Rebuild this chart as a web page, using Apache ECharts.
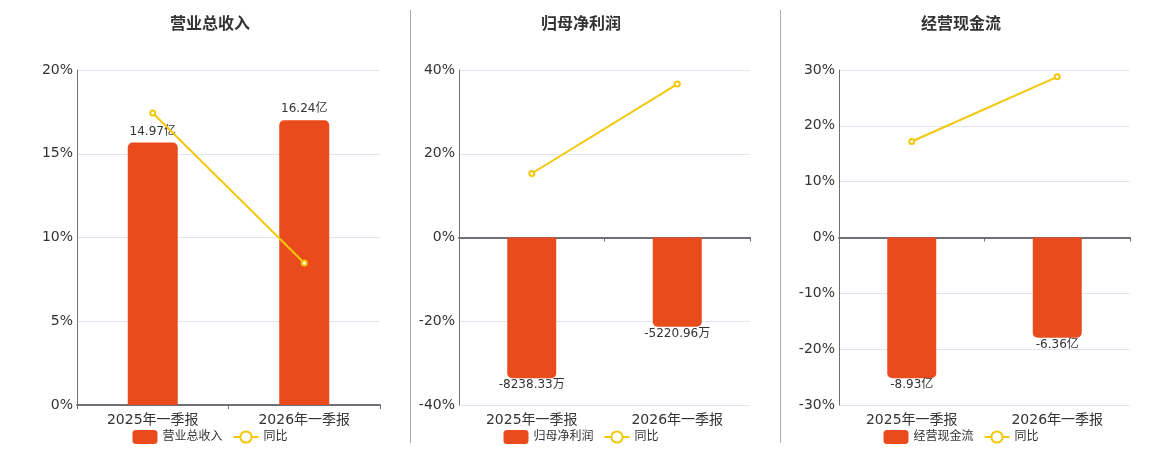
<!DOCTYPE html>
<html><head><meta charset="utf-8">
<script src="https://cdn.jsdelivr.net/npm/echarts@6/dist/echarts.min.js"></script>
<style>html,body{margin:0;padding:0;background:#fff}#c{width:1160px;height:450px}</style>
</head><body><div id="c"></div>
<script>
const categories = ['2025年一季报', '2026年一季报'];
const titles = ['营业总收入', '归母净利润', '经营现金流'];
const revenueValues = [14.97, 16.24];          // 亿
const revenueLabels = ['14.97亿', '16.24亿'];
const revenueYoY = [17.43, 8.48];
const profitValues = [-8238.33, -5220.96];     // 万
const profitLabels = ['-8238.33万', '-5220.96万'];
const profitYoY = [15.28, 36.63];
const cashValues = [-8.93, -6.36];             // 亿
const cashLabels = ['-8.93亿', '-6.36亿'];
const cashYoY = [17.2, 28.78];
const pctAxes = [[0, 20, 5], [-40, 40, 20], [-30, 30, 10]];

const FONT = "'DejaVu Sans','Noto Sans CJK SC',sans-serif";
const BAR = '#E94B1C', LINE = '#F3C70A';
const panels = [
  {vals: revenueValues, labels: revenueLabels, yoy: revenueYoY, left: 77, width: 303, cx: 210, bw: 50, f: 0.85},
  {vals: profitValues, labels: profitLabels, yoy: profitYoY, left: 459, width: 291, cx: 581, bw: 49, f: 0.84},
  {vals: cashValues, labels: cashLabels, yoy: cashYoY, left: 839, width: 291, cx: 961, bw: 49, f: 0.84}
];

const option = {animation: false, title: [], legend: [], grid: [], xAxis: [], yAxis: [], series: [],
  graphic: [
    {type: 'line', shape: {x1: 410.5, y1: 10, x2: 410.5, y2: 443}, style: {stroke: '#aaaaaa', lineWidth: 1}},
    {type: 'line', shape: {x1: 780.5, y1: 10, x2: 780.5, y2: 443}, style: {stroke: '#aaaaaa', lineWidth: 1}}
  ]};

panels.forEach((p, i) => {
  const [mn, mx, iv] = pctAxes[i];
  const maxAbs = Math.max(...p.vals.map(Math.abs));
  const bMax = maxAbs / p.f;
  const bMin = mn < 0 ? -bMax : 0;
  option.title.push({text: titles[i], left: p.cx, top: 12,
    textStyle: {fontSize: 16, fontWeight: 'bold', color: '#333', fontFamily: FONT}});
  option.legend.push({data: [titles[i], '同比'].map(n => ({name: n})), left: p.cx, top: 425, itemWidth: 25, itemHeight: 14, itemGap: 10,
    textStyle: {fontSize: 12, color: '#333', fontFamily: FONT}, selectedMode: false});
  option.grid.push({left: p.left, width: p.width, top: 70, bottom: 45, containLabel: false});
  option.xAxis.push({type: 'category', gridIndex: i, data: categories,
    axisLine: {show: true, onZero: true, onZeroAxisIndex: i * 2, lineStyle: {color: '#6E7079', width: 2}},
    axisTick: {show: true, length: 4, lineStyle: {color: '#6E7079'}},
    axisLabel: {fontSize: 14, color: '#333', fontFamily: FONT, margin: 8}});
  option.yAxis.push({type: 'value', gridIndex: i, min: mn, max: mx, interval: iv,
    axisLine: {show: true, lineStyle: {color: '#6E7079'}}, axisTick: {show: false},
    axisLabel: {fontSize: 14, color: '#333', fontFamily: FONT, margin: 4, formatter: '{value}%'},
    splitLine: {lineStyle: {color: '#E0E6F1'}}});
  option.yAxis.push({type: 'value', gridIndex: i, min: bMin, max: bMax, show: false, splitLine: {show: false}});
  option.series.push({type: 'bar', name: titles[i], xAxisIndex: i, yAxisIndex: i * 2 + 1, barWidth: p.bw,
    itemStyle: {color: BAR},
    data: p.vals.map((v, k) => ({value: v,
      itemStyle: {borderRadius: v >= 0 ? [5, 5, 0, 0] : [0, 0, 5, 5]},
      label: {show: true, position: v >= 0 ? 'top' : 'bottom', distance: v >= 0 ? 5 : 1,
        formatter: () => p.labels[k], fontSize: 12, color: '#333', fontFamily: FONT}}))});
  option.series.push({type: 'line', name: '同比', xAxisIndex: i, yAxisIndex: i * 2, z: 10,
    symbol: 'emptyCircle', symbolSize: 5, color: LINE,
    lineStyle: {color: LINE, width: 2}, itemStyle: {color: LINE, borderWidth: 1.5},
    data: p.yoy});
});

const chart = echarts.init(document.getElementById('c'), null, {renderer: 'canvas'});
chart.setOption(option);
// center titles and legends on their panel centers
const centerOf = (type, i) => {
  const comp = chart.getModel().getComponent(type, i);
  const view = chart.getViewOfComponentModel(comp);
  return panels[i].cx - view.group.getBoundingRect().width / 2;
};
chart.setOption({
  legend: option.legend.map((l, i) => ({left: centerOf('legend', i)})),
  title: option.title.map((t, i) => ({left: centerOf('title', i)}))
});
</script></body></html>
